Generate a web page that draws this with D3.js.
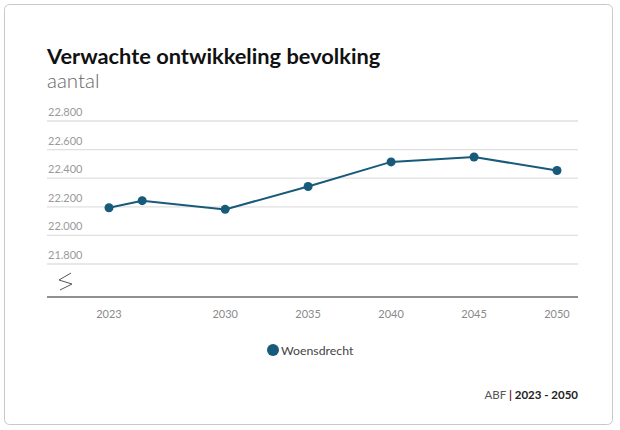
<!DOCTYPE html>
<html><head><meta charset="utf-8">
<script src="https://cdn.jsdelivr.net/npm/d3@7"></script>
<style>body{margin:0;background:#fff;font-family:"Source Sans Pro",Lato,"Open Sans",sans-serif}</style>
</head><body>
<svg id="c" width="620" height="430"></svg>
<script>
const years = [2023, 2025, 2030, 2035, 2040, 2045, 2050];
const values = [22193, 22243, 22182, 22342, 22514, 22548, 22454];
const yTicks = [21800, 22000, 22200, 22400, 22600, 22800];
const xTicks = [2023, 2030, 2035, 2040, 2045, 2050];
const seriesName = "Woensdrecht";
const color = "#175a7a";

const svg = d3.select("#c");
svg.append("rect").attr("x",4.5).attr("y",4.5).attr("width",608).attr("height",420)
  .attr("rx",5).attr("fill","#fff").attr("stroke","#c8c8c8");

svg.append("text").attr("x",47).attr("y",64).attr("font-size",21.8).attr("font-weight",700)
  .attr("fill","#111").text("Verwachte ontwikkeling bevolking");
svg.append("text").attr("x",47).attr("y",88).attr("font-size",20.5).attr("font-weight",300)
  .attr("fill","#666").text("aantal");

const x = d3.scaleLinear().domain([2023,2050]).range([109,557]);
const y = d3.scaleLinear().domain([21800,22800]).range([264,121]);
const fmt = v => d3.format(",")(v).replace(/,/g,".");

const g = svg.append("g");
yTicks.forEach(t=>{
  g.append("line").attr("x1",47).attr("x2",578).attr("y1",y(t)).attr("y2",y(t))
   .attr("stroke","#e0e0e0").attr("stroke-width",1.3);
  g.append("text").attr("x",48).attr("y",y(t)-5).attr("font-size",11).attr("fill","#9a9a9a").text(fmt(t));
});
// baseline
g.append("line").attr("x1",47).attr("x2",578).attr("y1",297).attr("y2",297).attr("stroke","#222").attr("stroke-width",1.2);
// break symbol
g.append("path").attr("d","M71,273 L59,280 L72,284 L60,290").attr("fill","none").attr("stroke","#555").attr("stroke-width",1);

xTicks.forEach(t=>{
  g.append("text").attr("x",x(t)).attr("y",318).attr("text-anchor","middle").attr("font-size",11)
   .attr("fill","#8a8a8a").text(t);
});

const data = years.map((yr,i)=>({yr, v:values[i]}));
g.append("path").datum(data).attr("fill","none").attr("stroke",color).attr("stroke-width",2)
  .attr("d", d3.line().x(d=>x(d.yr)).y(d=>y(d.v)));
g.selectAll("circle.p").data(data).enter().append("circle").attr("class","p")
  .attr("cx",d=>x(d.yr)).attr("cy",d=>y(d.v)).attr("r",4.5).attr("fill",color);

// legend
svg.append("circle").attr("cx",273).attr("cy",350).attr("r",6).attr("fill",color);
svg.append("text").attr("x",281).attr("y",354.5).attr("font-size",12.3).attr("fill","#444").text(seriesName);

// footer
const f = svg.append("text").attr("x",578).attr("y",399).attr("text-anchor","end").attr("font-size",11.5);
f.append("tspan").attr("fill","#555").text("ABF ");
f.append("tspan").attr("fill","#7a1040").attr("font-weight",700).text("|");
f.append("tspan").attr("fill","#222").attr("font-weight",700).text(" 2023 - 2050");
</script>
</body></html>
